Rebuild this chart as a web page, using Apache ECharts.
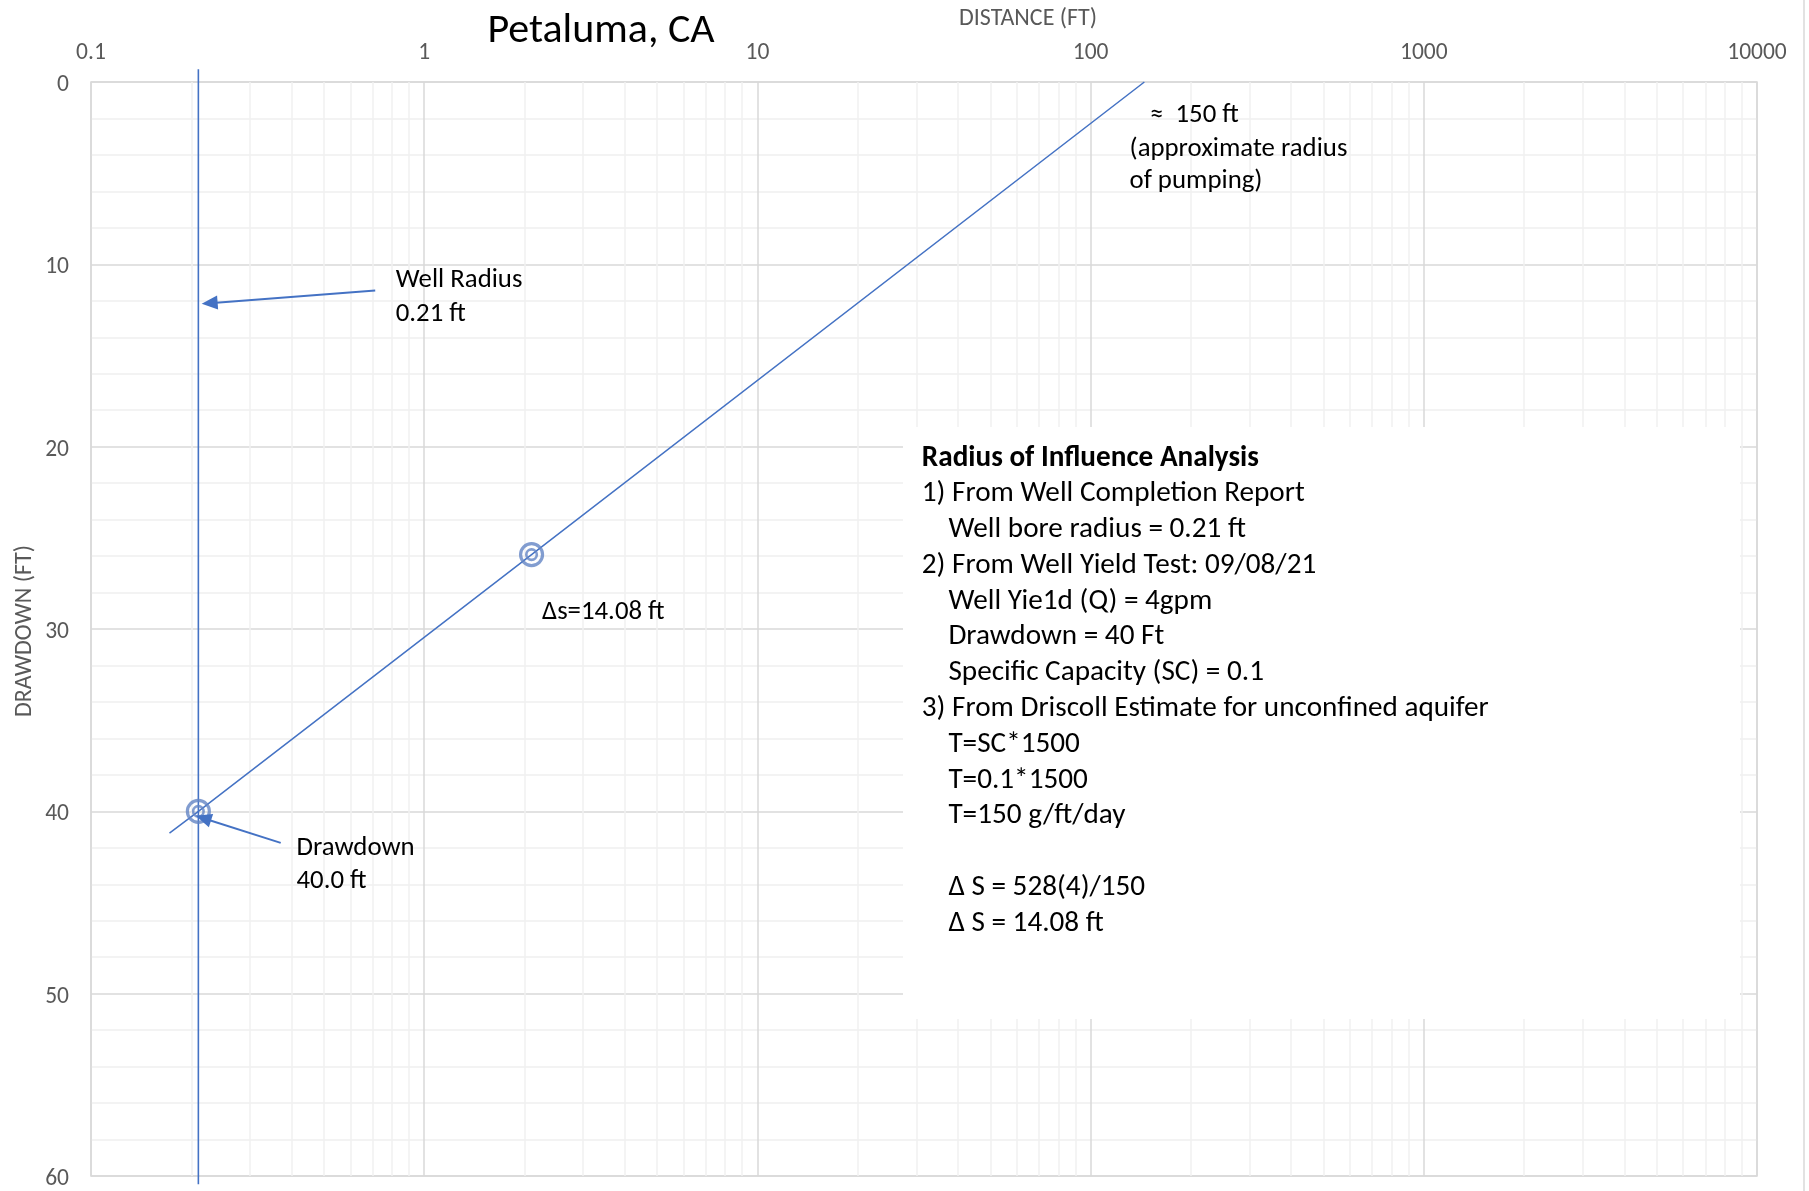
<!DOCTYPE html>
<html>
<head>
<meta charset="utf-8">
<title>Petaluma, CA</title>
<script src="https://cdn.jsdelivr.net/npm/echarts@6/dist/echarts.min.js"></script>
<style>
  html, body { margin: 0; padding: 0; background: #ffffff; }
  #chart { width: 1809px; height: 1191px; }
</style>
</head>
<body>
<div id="chart"></div>
<script>
// Distance–drawdown plot (log distance vs drawdown)
const chartTitle = 'Petaluma, CA';
const xAxisTitle = 'DISTANCE (FT)';
const yAxisTitle = 'DRAWDOWN (FT)';

// Straight-line drawdown trend (distance ft, drawdown ft)
const lineDistance = [0.172, 0.21, 2.1, 145];
const lineDrawdown = [41.2, 40, 25.92, 0];

// Marked points on the trend
const markerDistance = [0.21, 2.1];
const markerDrawdown = [40, 25.92];

// Well radius reference line
const wellRadius = 0.21;
const wellLineDrawdown = [-0.7, 60.45];

// Annotation arrows: [tail distance, tail drawdown, head distance, head drawdown]
const arrowWellRadius = [0.713, 11.44, 0.227, 12.13];
const arrowDrawdown = [0.371, 41.73, 0.2174, 40.38];

// Minor log grid positions
const minorDistances = [
  0.2, 0.3, 0.4, 0.5, 0.6, 0.7, 0.8, 0.9,
  2, 3, 4, 5, 6, 7, 8, 9,
  20, 30, 40, 50, 60, 70, 80, 90,
  200, 300, 400, 500, 600, 700, 800, 900,
  2000, 3000, 4000, 5000, 6000, 7000, 8000, 9000
];

// Text box contents
const boxText = [
  'Radius of Influence Analysis',
  '1) From Well Completion Report',
  'Well bore radius = 0.21 ft',
  '2) From Well Yield Test: 09/08/21',
  'Well Yie1d (Q) = 4gpm',
  'Drawdown = 40 Ft',
  'Specific Capacity (SC) = 0.1',
  '3) From Driscoll Estimate for unconfined aquifer',
  'T=SC*1500',
  'T=0.1*1500',
  'T=150 g/ft/day',
  '',
  '\u0394 S = 528(4)/150',
  '\u0394 S = 14.08 ft'
];
const boxIndent = [0, 0, 1, 0, 1, 1, 1, 0, 1, 1, 1, 1, 1, 1];

const FONT = 'Carlito, Lato, "Open Sans", sans-serif';
const BLUE = '#4472C4';
const RING = '#6384C4';
const NOTE_SIZE = 26.8;
const BOX_SIZE = 29.2;

const chart = echarts.init(document.getElementById('chart'), null, { renderer: 'canvas' });

function label(text, x, y, size, extra) {
  return {
    type: 'text', x: x, y: y, z: 120,
    style: Object.assign({
      text: text, fontFamily: FONT, fontSize: size, fill: '#000000',
      textAlign: 'left', textVerticalAlign: 'middle'
    }, extra || {})
  };
}

const graphics = [
  // analysis text box background
  { type: 'rect', z: 100, shape: { x: 903, y: 427, width: 837, height: 592 }, style: { fill: '#ffffff' } },
  // outer frame edge
  { type: 'line', z: 100, shape: { x1: 1804, y1: 0, x2: 1804, y2: 1191 }, style: { stroke: '#d9d9d9', lineWidth: 1.5 } },
  label(xAxisTitle, 1028, 19, 24, { fill: '#595959', textAlign: 'center' }),
  {
    type: 'text', z: 120, x: 25, y: 631, rotation: Math.PI / 2,
    style: { text: yAxisTitle, fontFamily: FONT, fontSize: 24, fill: '#595959', textAlign: 'center', textVerticalAlign: 'middle' }
  },
  label('\u2248  150 ft', 1150, 115.5, NOTE_SIZE),
  label('(approximate radius', 1129.5, 149, NOTE_SIZE),
  label('of pumping)', 1129.5, 181.5, NOTE_SIZE),
  label('Well Radius', 395.7, 280.5, NOTE_SIZE),
  label('0.21 ft', 395.7, 314, NOTE_SIZE),
  label('\u0394s=14.08 ft', 542, 612.8, NOTE_SIZE),
  label('Drawdown', 296.5, 848.2, NOTE_SIZE),
  label('40.0 ft', 296.5, 881.6, NOTE_SIZE)
];

boxText.forEach(function (t, i) {
  if (!t) return;
  const el = label(t, boxIndent[i] ? 948.4 : 921.8, 458.3 + 35.77 * i, BOX_SIZE);
  if (i === 0) el.style.fontWeight = 'bold';
  graphics.push(el);
});

function fmtDistance(v) {
  return String(Number(v.toPrecision(6)));
}

const option = {
  backgroundColor: '#ffffff',
  animation: false,
  title: {
    text: chartTitle,
    left: 596, top: 5, textAlign: 'center',
    textStyle: { fontFamily: FONT, fontSize: 42, fontWeight: 'normal', color: '#000000' }
  },
  grid: {
    left: 91, right: 52, top: 82, bottom: 13,
    show: true, borderColor: '#d9d9d9', borderWidth: 1.5, backgroundColor: 'transparent'
  },
  xAxis: {
    type: 'log', logBase: 10, min: 0.1, max: 10000, position: 'top',
    axisLine: { show: false }, axisTick: { show: false },
    axisLabel: { formatter: fmtDistance, fontFamily: FONT, fontSize: 23.5, color: '#595959', margin: 17 },
    splitLine: { show: true, lineStyle: { color: '#d9d9d9', width: 1.5 } }
  },
  yAxis: {
    type: 'value', min: 0, max: 60, interval: 10, inverse: true,
    axisLine: { show: false }, axisTick: { show: false },
    axisLabel: {
      margin: 22,
      formatter: function (v) { return '{n|' + v + '}'; },
      rich: { n: { fontFamily: FONT, fontSize: 23.5, color: '#595959', padding: [6, 0, 0, 0] } }
    },
    splitLine: { show: true, lineStyle: { color: '#d9d9d9', width: 1.5 } },
    minorTick: { show: false, splitNumber: 5 },
    minorSplitLine: { show: true, lineStyle: { color: '#f0f0f0', width: 1.5 } }
  },
  series: [
    {
      // minor vertical grid for the log axis
      type: 'line', data: [], z: 1, silent: true,
      markLine: {
        z: 1, silent: true, symbol: ['none', 'none'], label: { show: false },
        lineStyle: { color: '#f0f0f0', width: 1.5, type: 'solid' },
        data: minorDistances.map(function (v) { return { xAxis: v }; })
      }
    },
    {
      name: 'Well radius', type: 'line', clip: false, z: 3,
      symbol: 'none', lineStyle: { color: BLUE, width: 1.6 },
      data: wellLineDrawdown.map(function (d) { return [wellRadius, d]; })
    },
    {
      name: 'Drawdown trend', type: 'line', clip: false, z: 3,
      symbol: 'none', lineStyle: { color: BLUE, width: 1.5 },
      data: lineDistance.map(function (x, i) { return [x, lineDrawdown[i]]; }),
      markLine: {
        silent: true, symbol: ['none', 'triangle'], symbolSize: [14, 16],
        label: { show: false },
        lineStyle: { color: BLUE, width: 2, type: 'solid' },
        itemStyle: { color: BLUE },
        data: [
          [{ coord: [arrowWellRadius[0], arrowWellRadius[1]] }, { coord: [arrowWellRadius[2], arrowWellRadius[3]] }],
          [{ coord: [arrowDrawdown[0], arrowDrawdown[1]] }, { coord: [arrowDrawdown[2], arrowDrawdown[3]] }]
        ]
      }
    },
    {
      name: 'Marker outer', type: 'scatter', z: 4, symbol: 'circle', symbolSize: 22,
      itemStyle: { color: 'rgba(255,255,255,0)', borderColor: RING, borderWidth: 3.2 },
      data: markerDistance.map(function (x, i) { return [x, markerDrawdown[i]]; })
    },
    {
      name: 'Marker inner', type: 'scatter', z: 4, symbol: 'circle', symbolSize: 10.5,
      itemStyle: { color: 'rgba(255,255,255,0)', borderColor: RING, borderWidth: 2.6 },
      data: markerDistance.map(function (x, i) { return [x, markerDrawdown[i]]; })
    }
  ],
  graphic: graphics
};

chart.setOption(option);
</script>
</body>
</html>
